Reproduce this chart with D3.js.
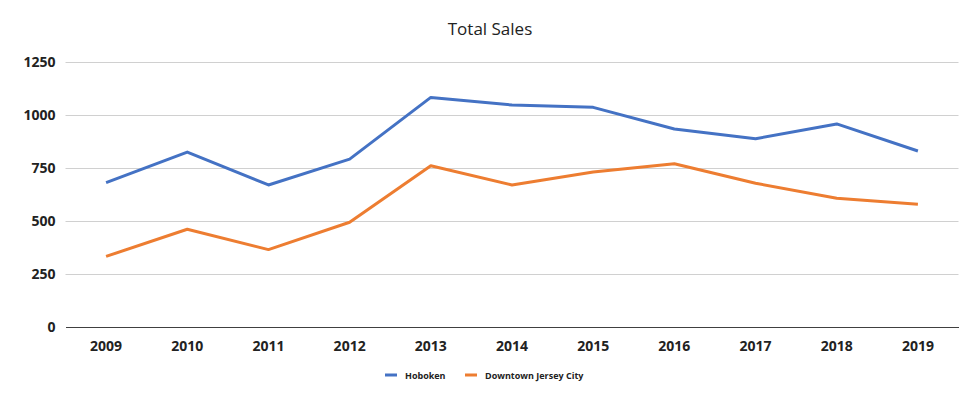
<!DOCTYPE html>
<html>
<head>
<meta charset="utf-8">
<script src="https://cdn.jsdelivr.net/npm/d3@7"></script>
<style>
  body { margin: 0; background: #fff; }
  svg { display: block; }
</style>
</head>
<body>
<div id="chart"></div>
<script>
const years = ["2009", "2010", "2011", "2012", "2013", "2014", "2015", "2016", "2017", "2018", "2019"];
const hoboken = [681, 825, 670, 792, 1083, 1047, 1036, 934, 888, 958, 830];
const downtownJC = [333, 461, 365, 494, 761, 670, 731, 770, 678, 607, 579];
const yTicks = [0, 250, 500, 750, 1000, 1250];

const seriesNames = ["Hoboken", "Downtown Jersey City"];
const seriesValues = [hoboken, downtownJC];
const colors = ["#4472C4", "#ED7D31"];

const W = 980, H = 401;
const margin = { top: 62, right: 21.5, bottom: 74, left: 65.5 },
      width = W - margin.left - margin.right,
      height = H - margin.top - margin.bottom;

const root = d3.select("#chart")
  .append("svg")
  .attr("width", W)
  .attr("height", H);

const svg = root.append("g")
  .attr("transform", `translate(${margin.left},${margin.top})`);

const x = d3.scaleBand()
  .domain(years)
  .range([0, width]);

const y = d3.scaleLinear()
  .domain([0, 1250])
  .range([height, 0]);

// gridlines
svg.append("g")
  .selectAll("line")
  .data(yTicks.filter(d => d > 0))
  .enter()
  .append("line")
  .attr("x1", 0)
  .attr("x2", width)
  .attr("y1", d => Math.round(y(d)) + 0.5)
  .attr("y2", d => Math.round(y(d)) + 0.5)
  .attr("stroke", "#d0d0d0")
  .attr("stroke-width", 1);

// y axis labels
const yAxis = svg.append("g")
  .call(d3.axisLeft(y).tickValues(yTicks).tickFormat(d3.format("d")).tickSize(0).tickPadding(10));
yAxis.select(".domain").remove();
yAxis.selectAll("text")
  .style("font-family", "'Open Sans', sans-serif")
  .style("font-size", "14px")
  .style("font-weight", "bold")
  .attr("fill", "#222");

// x axis
const xAxis = svg.append("g")
  .attr("transform", `translate(0, ${height})`)
  .call(d3.axisBottom(x).tickSize(0).tickPadding(14));
xAxis.select(".domain")
  .attr("stroke", "#404040")
  .attr("stroke-width", 1);
xAxis.selectAll("text")
  .style("font-family", "'Open Sans', sans-serif")
  .style("font-size", "14px")
  .style("font-weight", "bold")
  .attr("fill", "#222");

const line = d3.line()
  .x((d, i) => x(years[i]) + x.bandwidth() / 2)
  .y(d => y(d));

seriesValues.forEach((values, i) => {
  svg.append("path")
    .datum(values)
    .attr("fill", "none")
    .attr("stroke", colors[i])
    .attr("stroke-width", 3)
    .attr("stroke-linejoin", "round")
    .attr("d", line);
});

// title
root.append("text")
  .attr("x", 490)
  .attr("y", 35)
  .attr("text-anchor", "middle")
  .style("font-family", "'Open Sans', sans-serif")
  .style("font-size", "17px")
  .attr("fill", "#222")
  .text("Total Sales");

// legend
const legendX = [385, 465];
seriesNames.forEach((name, i) => {
  const g = root.append("g")
    .attr("transform", `translate(${legendX[i]}, 375)`);
  g.append("line")
    .attr("x1", 0)
    .attr("x2", 12)
    .attr("y1", 0)
    .attr("y2", 0)
    .attr("stroke", colors[i])
    .attr("stroke-width", 3);
  g.append("text")
    .attr("x", 20)
    .attr("y", 3.5)
    .style("font-family", "'Open Sans', sans-serif")
    .style("font-size", "9px")
    .style("font-weight", "bold")
    .attr("fill", "#222")
    .text(name);
});
</script>
</body>
</html>
